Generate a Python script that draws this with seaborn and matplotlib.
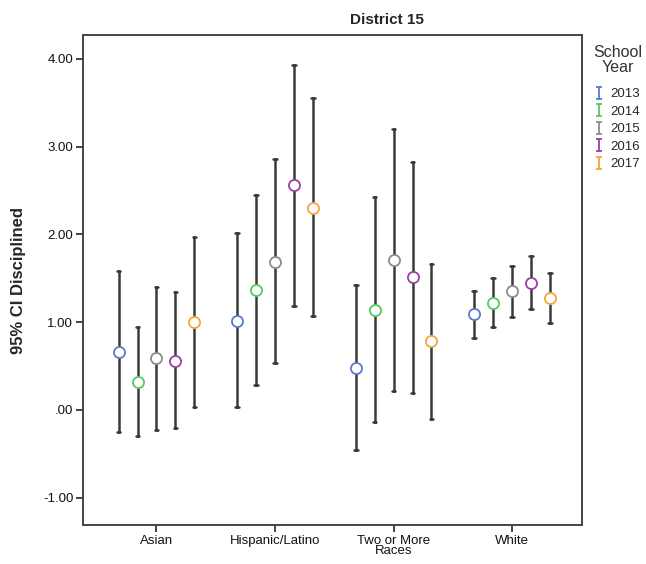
import numpy as np
import pandas as pd
import seaborn as sns
import matplotlib
matplotlib.use("Agg")
import matplotlib.pyplot as plt
from matplotlib.path import Path
from matplotlib.lines import Line2D

# ---- data ----
categories = ["Asian", "Hispanic/Latino", "Two or More\nRaces", "White"]
years = ["2013", "2014", "2015", "2016", "2017"]

mean_2013 = [0.66, 1.01, 0.48, 1.09]
lower_2013 = [-0.25, 0.03, -0.46, 0.82]
upper_2013 = [1.58, 2.02, 1.42, 1.36]

mean_2014 = [0.32, 1.37, 1.14, 1.22]
lower_2014 = [-0.30, 0.28, -0.14, 0.94]
upper_2014 = [0.95, 2.45, 2.43, 1.50]

mean_2015 = [0.59, 1.69, 1.71, 1.35]
lower_2015 = [-0.23, 0.53, 0.22, 1.06]
upper_2015 = [1.40, 2.86, 3.20, 1.64]

mean_2016 = [0.56, 2.56, 1.51, 1.45]
lower_2016 = [-0.21, 1.18, 0.19, 1.15]
upper_2016 = [1.34, 3.93, 2.82, 1.75]

mean_2017 = [1.00, 2.30, 0.78, 1.28]
lower_2017 = [0.03, 1.07, -0.10, 0.99]
upper_2017 = [1.97, 3.55, 1.66, 1.56]

y_ticks = [-1, 0, 1, 2, 3, 4]
y_tick_labels = ["-1.00", ".00", "1.00", "2.00", "3.00", "4.00"]
colors = ["#5B79CC", "#55C95F", "#8C8C8C", "#9B3FA0", "#F5A53C"]

means = [mean_2013, mean_2014, mean_2015, mean_2016, mean_2017]
lowers = [lower_2013, lower_2014, lower_2015, lower_2016, lower_2017]
uppers = [upper_2013, upper_2014, upper_2015, upper_2016, upper_2017]

rows = []
for yi, yr in enumerate(years):
    for ci, cat in enumerate(categories):
        for v in (lowers[yi][ci], means[yi][ci], uppers[yi][ci]):
            rows.append({"group": cat, "year": yr, "value": v})
df = pd.DataFrame(rows)

# ---- style ----
sns.set_style("ticks")
plt.rcParams["font.family"] = ["Liberation Sans", "DejaVu Sans"]

fig = plt.figure(figsize=(6.46, 5.64), dpi=100)
ax = fig.add_axes([83 / 646, 1 - 525 / 564, (582 - 83) / 646, (525 - 35) / 564])

sns.pointplot(
    data=df, x="group", y="value", hue="year",
    order=categories, hue_order=years, palette=colors,
    estimator="median", errorbar=lambda v: (v.min(), v.max()),
    dodge=0.64, linestyle="none", markers="o", capsize=0.032,
    err_kws={"color": "#3a3a3a", "linewidth": 1.8},
    markersize=8, legend=False, ax=ax,
)

for ln in ax.lines:
    if ln.get_marker() == "o":
        c = ln.get_color()
        ln.set_markerfacecolor("white")
        ln.set_markeredgecolor(c)
        ln.set_markeredgewidth(1.3)
        ln.set_zorder(5)

ax.set_xlim(-0.62, 3.59)
ax.set_ylim(-1.31, 4.27)
ax.set_yticks(y_ticks)
ax.set_yticklabels(y_tick_labels)
ax.set_xlabel("")
ax.set_ylabel("95% CI Disciplined", fontsize=12, fontweight="bold", labelpad=12)

for s in ax.spines.values():
    s.set_visible(True)
    s.set_color("#444444")
    s.set_linewidth(1.4)
ax.tick_params(axis="both", direction="out", length=5, width=1.4, color="#444444",
               labelsize=9.5, labelcolor="#111111", pad=2)
for t in ax.get_xticklabels():
    t.set_linespacing(0.8)

fig.text(387 / 646, 1 - 20 / 564, "District 15", ha="center", va="center",
         fontsize=11, fontweight="bold")

# legend title
fig.text(618 / 646, 1 - 60 / 564, "School\nYear", ha="center", va="center",
         fontsize=11.5, color="#333333", linespacing=0.95, multialignment="center")

# legend with error-bar glyphs
ibar = Path([(-0.5, 1), (0.5, 1), (0, 1), (0, -1), (-0.5, -1), (0.5, -1)],
            [Path.MOVETO, Path.LINETO, Path.MOVETO, Path.LINETO, Path.MOVETO, Path.LINETO])
handles = [Line2D([], [], linestyle="none", marker=ibar, markersize=9,
                  markeredgecolor=c, markerfacecolor="none", markeredgewidth=1.3)
           for c in colors]
leg = fig.legend(handles, years, loc="upper left",
                 bbox_to_anchor=(594 / 646, 1 - 88 / 564), frameon=False,
                 fontsize=9.5, handlelength=0.8, borderaxespad=0,
                 handletextpad=0.45, labelspacing=0.4, borderpad=0)

fig.savefig("out.png", dpi=100)
